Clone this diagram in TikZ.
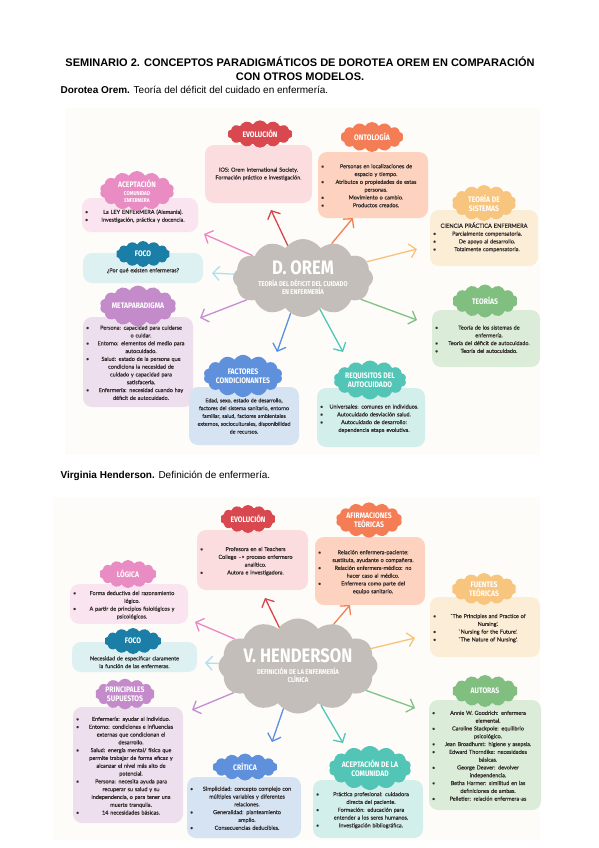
\documentclass[tikz,border=0pt]{standalone}
\usepackage{fontspec}
\setmainfont{Liberation Sans}
\newfontfamily\bodyfont[FakeBold=0.6]{Lato}
\newfontfamily\tagfont[FakeStretch=0.85]{Fira Sans}
\usetikzlibrary{arrows.meta,shapes.symbols}
\definecolor{panel}{HTML}{FDFCF8}
\definecolor{ink}{HTML}{342E2E}
\definecolor{hubgray}{HTML}{C3BEB9}
\definecolor{redtag}{HTML}{D9474F}\definecolor{redbox}{HTML}{FBDDE0}\definecolor{redarr}{HTML}{D8434C}
\definecolor{pinktag}{HTML}{E98CC3}\definecolor{pinkbox}{HTML}{F9E4EF}\definecolor{pinkarr}{HTML}{EC86C4}
\definecolor{orgtag}{HTML}{F47D56}\definecolor{orgbox}{HTML}{FDD2BE}\definecolor{orgarr}{HTML}{F47F52}
\definecolor{ltotag}{HTML}{F8C57F}\definecolor{ltobox}{HTML}{FCEDD6}\definecolor{ltoarr}{HTML}{F8C27A}
\definecolor{focotag}{HTML}{1B7EA6}\definecolor{focobox}{HTML}{DDF1F3}\definecolor{focoarr}{HTML}{AEE0F2}
\definecolor{purtag}{HTML}{C48BCB}\definecolor{purbox}{HTML}{EEDFEE}\definecolor{purarr}{HTML}{C58DD3}
\definecolor{blutag}{HTML}{5E90DC}\definecolor{blubox}{HTML}{D6E3F3}\definecolor{bluarr}{HTML}{5B8FE2}
\definecolor{teatag}{HTML}{52C5B6}\definecolor{teabox}{HTML}{D3EFEB}\definecolor{teaarr}{HTML}{4EC7B9}
\definecolor{grntag}{HTML}{80BF80}\definecolor{grnbox}{HTML}{DBEDD8}\definecolor{grnarr}{HTML}{80C285}
\newcommand\bul[1]{\par\lineskip=0pt\relax\noindent\makebox[6pt][l]{\textbullet}\parbox[t]{\dimexpr\hsize-6pt\relax}{\centering\strut #1\strut}\par}
\newcommand\smallcaps[1]{{\fontsize{5.6}{7}\selectfont #1}}
\newcommand\lowered[2]{\raisebox{#1}[0pt][0pt]{\parbox{\hsize}{\centering #2}}}

\begin{document}
\begin{tikzpicture}[x=1pt,y=1pt,
 box/.style={rounded corners=9pt,align=center,inner sep=3pt,text=ink,font=\bodyfont\fontsize{5.5}{7.8}\selectfont},
 tag/.style={cloud,cloud puffs=14,cloud puff arc=120,aspect=2.3,inner sep=0pt,text=white,align=center,font=\tagfont\bfseries\fontsize{8}{8.5}\selectfont},
 hub/.style={cloud,cloud puffs=12,cloud puff arc=110,aspect=2,inner sep=0pt,fill=hubgray,text=white,align=center,font=\tagfont\bfseries\fontsize{7}{8.5}\selectfont},
 arr/.style={line width=1.3pt,line cap=round,-{Straight Barb[length=6.5pt,width=14pt]}}]
\useasboundingbox(0,0)rectangle(599,-848);
\fill[panel](65,-108)rectangle(540,-455);
\fill[panel](53,-497)rectangle(540,-840);

\node[align=center,font=\bfseries\fontsize{11}{14}\selectfont](title)at(300,-69){SEMINARIO 2. CONCEPTOS PARADIGMÁTICOS DE DOROTEA OREM EN COMPARACIÓN\\CON OTROS MODELOS.};
\node[anchor=base west,font=\fontsize{10}{12}\selectfont](orembar)at(57,-94){\textbf{Dorotea Orem.} Teoría del déficit del cuidado en enfermería.};
\node[anchor=base west,font=\fontsize{10}{12}\selectfont](hendbar)at(57,-478){\textbf{Virginia Henderson.} Definición de enfermería.};

\node[hub,minimum width=140,minimum height=70](orem)at(303,-278){{\fontsize{19.5}{19.5}\selectfont D. OREM}\\[3pt]TEORÍA DEL DÉFICIT DEL CUIDADO\\EN ENFERMERÍA};

\node[box,fill=redbox,minimum width=107,minimum height=58,text width=101](evolbox)at(258.5,-174){IOS: Orem International Society.\\Formación práctico e investigación.};
\node[tag,fill=redtag,minimum width=65,minimum height=26](evoltag)at(260,-134){EVOLUCIÓN};

\node[box,fill=pinkbox,minimum width=116,minimum height=34,text width=110](acepbox)at(140,-215){\bul{La LEY ENFERMERA (Alemania).}\bul{Investigación, práctica y docencia.}};
\node[tag,fill=pinktag,minimum width=66,minimum height=33](aceptag)at(137,-191){ACEPTACIÓN\\[-1pt]\smallcaps{COMUNIDAD}\\[-1.5pt]\smallcaps{ENFERMERA}};

\node[box,fill=orgbox,minimum width=110,minimum height=66,text width=104](ontobox)at(373,-185){\bul{Personas en localizaciones de\\espacio y tiempo.}\bul{Atributos o propiedades de estas\\personas.}\bul{Movimiento o cambio.}\bul{Productos creados.}};
\node[tag,fill=orgtag,minimum width=63,minimum height=30](ontotag)at(372,-137){ONTOLOGÍA};

\node[box,fill=ltobox,minimum width=108,minimum height=56,text width=102](sistbox)at(484,-238){{\fontsize{5.7}{7.8}\selectfont CIENCIA PRÁCTICA ENFERMERA}\par\bul{Parcialmente compensatoria.}\bul{De apoyo al desarrollo.}\bul{Totalmente compensatoria.}};
\node[tag,fill=ltotag,minimum width=64,minimum height=36](sisttag)at(484,-203){TEORÍA DE\\SISTEMAS};

\node[box,fill=focobox,minimum width=120,minimum height=30,text width=114](focobox)at(143,-268){\lowered{-4pt}{¿Por qué existen enfermeras?}};
\node[tag,fill=focotag,minimum width=54,minimum height=26](focotag)at(143,-254){FOCO};

\node[box,fill=purbox,minimum width=110,minimum height=90,text width=104](metabox)at(138,-362){\bul{Persona: capacidad para cuidarse\\o cuidar.}\bul{Entorno: elementos del medio para\\autocuidado.}\bul{Salud: estado de la persona que\\condiciona la necesidad de\\cuidado y capacidad para\\satisfacerla.}\bul{Enfermería: necesidad cuando hay\\déficit de autocuidado.}};
\node[tag,fill=purtag,minimum width=67,minimum height=32](metatag)at(138,-306){METAPARADIGMA};

\node[box,fill=blubox,minimum width=108,minimum height=58,text width=104,font=\bodyfont\fontsize{5.3}{7.8}\selectfont](factbox)at(244,-416){Edad, sexo, estado de desarrollo,\\factores del sistema sanitario, entorno\\familiar, salud, factores ambientales\\externos, socioculturales, disponibilidad\\de recursos.};
\node[tag,fill=blutag,minimum width=63,minimum height=27](facttag)at(243,-376){FACTORES\\CONDICIONANTES};

\node[box,fill=teabox,minimum width=108,minimum height=59,text width=102](reqbox)at(371,-417.5){\bul{Universales: comunes en individuos.}\bul{Autocuidado desviación salud.}\bul{Autocuidado de desarrollo:\\dependencia etapa evolutiva.}};
\node[tag,fill=teatag,minimum width=64,minimum height=34](reqtag)at(370,-380){REQUISITOS DEL\\AUTOCUIDADO};

\node[box,fill=grnbox,minimum width=108,minimum height=57,text width=102](teobox)at(486,-338.5){\bul{Teoría de los sistemas de\\enfermería.}\bul{Teoría del déficit de autocuidado.}\bul{Teoría del autocuidado.}};
\node[tag,fill=grntag,minimum width=65,minimum height=33](teotag)at(485,-301){TEORÍAS};

\coordinate(oa)at(271,-210);\coordinate(ob)at(353,-218);\coordinate(oc)at(417,-249);
\coordinate(od)at(417,-320);\coordinate(oe)at(343,-352);\coordinate(of)at(277,-352);
\coordinate(og)at(200,-318);\coordinate(oh)at(212,-273);\coordinate(oi)at(204,-234);
\draw[arr,redarr](orem)--(oa);
\draw[arr,orgarr](orem)--(ob);
\draw[arr,ltoarr](orem)--(oc);
\draw[arr,grnarr](orem)--(od);
\draw[arr,teaarr](orem)--(oe);
\draw[arr,bluarr](orem)--(of);
\draw[arr,purarr](orem)--(og);
\draw[arr,focoarr](orem)--(oh);
\draw[arr,pinkarr](orem)--(oi);

\node[hub,minimum width=145,minimum height=73](hend)at(298,-666){{\fontsize{19.5}{19.5}\selectfont V. HENDERSON}\\[3pt]DEFINICIÓN DE LA ENFERMERÍA\\CLÍNICA};

\node[box,fill=redbox,minimum width=111,minimum height=60,text width=105](hevolbox)at(252.5,-560){\bul{Profesora en el Teachers\\College –> proceso enfermero\\analítico.}\bul{Autora e investigadora.}};
\node[tag,fill=redtag,minimum width=55,minimum height=28](hevoltag)at(248,-519){EVOLUCIÓN};

\node[box,fill=pinkbox,minimum width=118,minimum height=38,text width=112](logbox)at(129,-604){\bul{Forma deductiva del razonamiento\\lógico.}\bul{A partir de principios fisiológicos y\\psicológicos.}};
\node[tag,fill=pinktag,minimum width=57,minimum height=28](logtag)at(128,-574){LÓGICA};

\node[box,fill=focobox,minimum width=125,minimum height=30,text width=119](hfocobox)at(134.5,-657){\lowered{-6.5pt}{Necesidad de especificar claramente\\la función de las enfermeras.}};
\node[tag,fill=focotag,minimum width=57,minimum height=26](hfocotag)at(133,-641){FOCO};

\node[box,fill=orgbox,minimum width=110,minimum height=68,text width=104](afirbox)at(370,-571){\bul{Relación enfermera-paciente:\\sustituta, ayudante o compañera.}\bul{Relación enfermera-médico: no\\hacer caso al médico.}\bul{Enfermera como parte del\\equipo sanitario.}};
\node[tag,fill=orgtag,minimum width=65,minimum height=30](afirtag)at(369,-520){AFIRMACIONES\\TEÓRICAS};

\node[box,fill=ltobox,minimum width=110,minimum height=60,text width=104](fuentbox)at(485,-627){\bul{`The Principles and Practice of\\Nursing'.}\bul{`Nursing for the Future'.}\bul{`The Nature of Nursing'.}};
\node[tag,fill=ltotag,minimum width=65,minimum height=32](fuenttag)at(484,-589){FUENTES\\TEÓRICAS};

\node[box,fill=grnbox,minimum width=110,minimum height=110,text width=106](autbox)at(485,-755){\bul{Annie W. Goodrich: enfermera\\elemental.}\bul{Caroline Stackpole: equilibrio\\psicológico.}\bul{Jean Broadhurst: higiene y asepsia.}\bul{Edward Thorndike: necesidades\\básicas.}\bul{George Deaver: devolver\\independencia.}\bul{Betha Harmer: similitud en las\\definiciones de ambas.}\bul{Pelletier: relación enfermera-as}};
\node[tag,fill=grntag,minimum width=66,minimum height=32](auttag)at(485,-691){AUTORAS};

\node[box,fill=purbox,minimum width=110,minimum height=116,text width=104](supbox)at(128,-765){\bul{Enfermería: ayudar al individuo.}\bul{Entorno: condiciones e influencias\\externas que condicionan el\\desarrollo.}\bul{Salud: energía mental/ física que\\permite trabajar de forma eficaz y\\alcanzar el nivel más alto de\\potencial.}\bul{Persona: necesita ayuda para\\recuperar su salud y su\\independencia, o para tener una\\muerte tranquila.}\bul{14 necesidades básicas.}};
\node[tag,fill=purtag,minimum width=60,minimum height=27](suptag)at(125,-694){PRINCIPALES\\SUPUESTOS};

\node[box,fill=blubox,minimum width=112,minimum height=61,text width=108](critbox)at(244,-807.5){\bul{Simplicidad: concepto complejo con\\múltiples variables y diferentes\\relaciones.}\bul{Generalidad: planteamiento\\amplio.}\bul{Consecuencias deducibles.}};
\node[tag,fill=blutag,minimum width=65,minimum height=27](crittag)at(245,-767){CRÍTICA};

\node[box,fill=teabox,minimum width=110,minimum height=58,text width=104](combox)at(368,-809){\bul{Práctica profesional: cuidadora\\directa del paciente.}\bul{Formación: educación para\\entender a los seres humanos.}\bul{Investigación bibliográfica.}};
\node[tag,fill=teatag,minimum width=75,minimum height=37](comtag)at(370,-768){ACEPTACIÓN DE LA\\COMUNIDAD};

\coordinate(ha)at(265,-598);\coordinate(hb)at(350,-605);\coordinate(hc)at(415,-638);
\coordinate(hd)at(415,-708);\coordinate(he)at(343,-743);\coordinate(hf)at(272,-742);
\coordinate(hg)at(192,-710);\coordinate(hh)at(205,-663);\coordinate(hi)at(195,-622);
\draw[arr,redarr](hend)--(ha);
\draw[arr,orgarr](hend)--(hb);
\draw[arr,ltoarr](hend)--(hc);
\draw[arr,grnarr](hend)--(hd);
\draw[arr,teaarr](hend)--(he);
\draw[arr,bluarr](hend)--(hf);
\draw[arr,purarr](hend)--(hg);
\draw[arr,focoarr](hend)--(hh);
\draw[arr,pinkarr](hend)--(hi);
\end{tikzpicture}
\end{document}
